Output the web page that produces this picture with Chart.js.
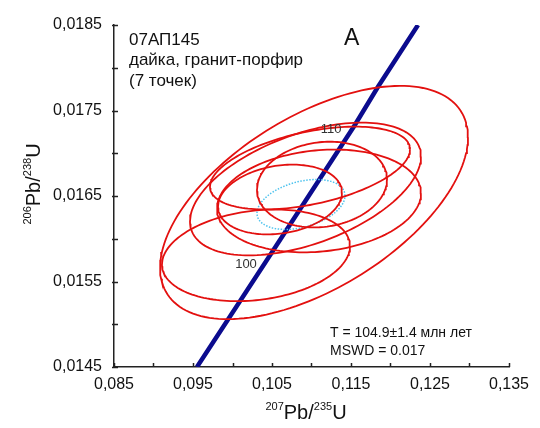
<!DOCTYPE html>
<html>
<head>
<meta charset="utf-8">
<script src="https://cdn.jsdelivr.net/npm/chart.js@4.4.1/dist/chart.umd.min.js"></script>
<style>
  body { margin: 0; background: #fff; }
  #wrap { width: 540px; height: 428px; }
</style>
</head>
<body>
<div id="wrap"><canvas id="concordiaChart" width="540" height="428"></canvas></div>
<script>
// DATA
// error ellipses: centre, sigma x, sigma y, correlation
const ellCx  = [0.11032, 0.10297, 0.10924, 0.10981, 0.11133, 0.11095, 0.10601];
const ellCy  = [0.016424, 0.015806, 0.016582, 0.016827, 0.016634, 0.016442, 0.016459];
const ellSx  = [0.01949, 0.01190, 0.01462, 0.01266, 0.00823, 0.01291, 0.00785];
const ellSy  = [0.001364, 0.000536, 0.000776, 0.000484, 0.000501, 0.000601, 0.000408];
const ellRho = [0.56, 0.2, 0.49, 0.45, 0.12, 0.15, 0.2];
// concordia age ellipse
const ageEll = { cx: 0.10867, cy: 0.016401, sx: 0.00557, sy: 0.000292, rho: 0.35 };
// concordia curve
const concordiaX = [0.0955, 0.10475, 0.11551, 0.11842, 0.12348];
const concordiaY = [0.0145, 0.015806, 0.017334, 0.017777, 0.0185];
// age marks on the concordia
const ageText = ['100', '110'];
const ageX = [0.10171, 0.11247];
const ageY = [0.015701, 0.017276];
// axes
const xMin = 0.085, xMax = 0.135, xStep = 0.005;
const yMin = 0.0145, yMax = 0.0185, yStep = 0.0005;

const FONT = "'Liberation Sans', Arial, sans-serif";

const ellipsePoints = (cx, cy, sx, sy, rho) => {
  const pts = [];
  const n = 160;
  for (let k = 0; k <= n; k++) {
    const t = k / n * 2 * Math.PI;
    pts.push({
      x: cx + sx * Math.cos(t),
      y: cy + sy * (rho * Math.cos(t) + Math.sqrt(1 - rho * rho) * Math.sin(t))
    });
  }
  return pts;
};

const datasets = [];
ellCx.forEach((cx, i) => {
  datasets.push({
    data: ellipsePoints(cx, ellCy[i], ellSx[i], ellSy[i], ellRho[i]),
    showLine: true,
    borderColor: '#e3100f',
    borderWidth: 1.8,
    pointRadius: 0
  });
});
datasets.push({
  data: ellipsePoints(ageEll.cx, ageEll.cy, ageEll.sx, ageEll.sy, ageEll.rho),
  showLine: true,
  borderColor: '#4fc3ee',
  borderWidth: 1.5,
  borderDash: [1.5, 1.5],
  pointRadius: 0
});
datasets.push({
  data: concordiaX.map((x, i) => ({ x: x, y: concordiaY[i] })),
  showLine: true,
  borderColor: '#0b0b8e',
  borderWidth: 4.5,
  pointRadius: 0
});

const fmt = (v, d) => v.toFixed(d).replace('.', ',');

// inward tick marks, texts and axis titles
const decor = {
  id: 'decor',
  afterDatasetsDraw(chart) {
    const ctx = chart.ctx;
    const xs = chart.scales.x, ys = chart.scales.y;
    const a = chart.chartArea;
    ctx.save();
    ctx.strokeStyle = '#222';
    ctx.lineWidth = 1.5;
    xs.ticks.forEach(t => {
      const px = Math.round(xs.getPixelForValue(t.value)) + 0.5;
      ctx.beginPath(); ctx.moveTo(px, a.bottom); ctx.lineTo(px, a.bottom - 4); ctx.stroke();
    });
    ys.ticks.forEach(t => {
      const py = Math.round(ys.getPixelForValue(t.value)) + 0.5;
      ctx.beginPath(); ctx.moveTo(a.left - 2, py); ctx.lineTo(a.left + 4, py); ctx.stroke();
    });

    // age labels on concordia
    ctx.fillStyle = '#333';
    ctx.font = '13px ' + FONT;
    ctx.textAlign = 'center';
    ctx.textBaseline = 'middle';
    ageText.forEach((s, i) => ctx.fillText(s, xs.getPixelForValue(ageX[i]), ys.getPixelForValue(ageY[i])));

    // sample text
    ctx.fillStyle = '#111';
    ctx.textAlign = 'left';
    ctx.textBaseline = 'alphabetic';
    ctx.font = '17px ' + FONT;
    ctx.fillText('07АП145', a.left + 15, 45);
    ctx.fillText('дайка, гранит-порфир', a.left + 15, 65);
    ctx.fillText('(7 точек)', a.left + 15, 86);
    ctx.font = '23px ' + FONT;
    ctx.fillText('A', 344, 45);

    ctx.font = '14px ' + FONT;
    ctx.fillText('T = 104.9±1.4 млн лет', 330, 337);
    ctx.fillText('MSWD = 0.017', 330, 355);

    // axis titles with superscripts
    const drawTitle = (parts, x, y) => {
      let w = 0;
      parts.forEach(p => { ctx.font = p[1] + 'px ' + FONT; w += ctx.measureText(p[0]).width; });
      let cx = x - w / 2;
      parts.forEach(p => {
        ctx.font = p[1] + 'px ' + FONT;
        ctx.fillText(p[0], cx, y + p[2]);
        cx += ctx.measureText(p[0]).width;
      });
    };
    const title = n1 => [[n1[0], 11, -9], ['Pb/', 20, 0], [n1[1], 11, -9], ['U', 20, 0]];
    ctx.textAlign = 'left';
    drawTitle(title(['207', '235']), 306, 419);
    ctx.translate(40, 184);
    ctx.rotate(-Math.PI / 2);
    drawTitle(title(['206', '238']), 0, 0);
    ctx.restore();
  }
};

new Chart(document.getElementById('concordiaChart'), {
  type: 'scatter',
  data: { datasets: datasets },
  options: {
    responsive: false,
    animation: false,
    layout: { padding: { top: 25, right: 31, left: 0, bottom: 0 } },
    plugins: { legend: { display: false }, tooltip: { enabled: false } },
    scales: {
      x: {
        type: 'linear', min: xMin, max: xMax,
        afterFit: s => { s.height = 61; },
        grid: { display: false, drawTicks: false },
        border: { display: true, color: '#222', width: 1.5 },
        ticks: {
          stepSize: xStep, padding: 8, color: '#111',
          font: { family: FONT, size: 16 },
          maxRotation: 0, autoSkip: false,
          callback: v => (Math.round(v * 1000) % 10 === 5 ? fmt(v, 3) : '')
        }
      },
      y: {
        type: 'linear', min: yMin, max: yMax,
        afterFit: s => { s.width = 114; },
        grid: { display: false, drawTicks: false },
        border: { display: true, color: '#222', width: 1.5 },
        ticks: {
          stepSize: yStep, padding: 12, color: '#111',
          font: { family: FONT, size: 16 },
          autoSkip: false,
          callback: v => (Math.round(v * 10000) % 10 === 5 ? fmt(v, 4) : '')
        }
      }
    }
  },
  plugins: [decor]
});
</script>
</body>
</html>
